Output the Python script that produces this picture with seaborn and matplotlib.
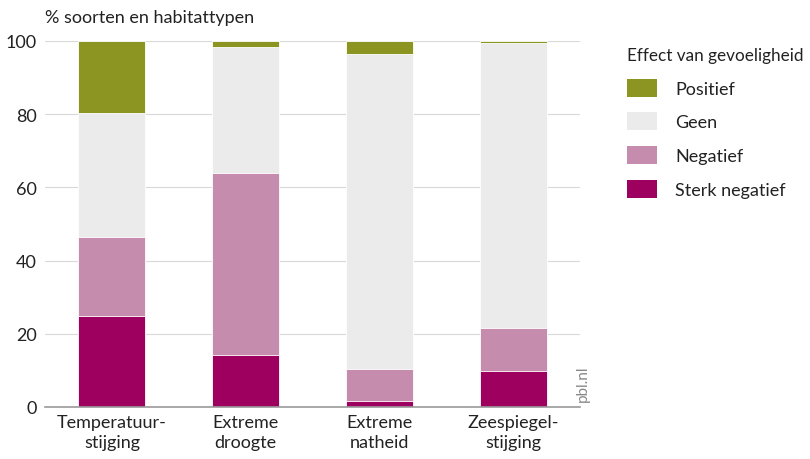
import matplotlib
matplotlib.use("Agg")
import matplotlib.pyplot as plt
import seaborn as sns
import pandas as pd
import numpy as np
from matplotlib.patches import Patch

categories = ["Temperatuur-\nstijging", "Extreme\ndroogte", "Extreme\nnatheid", "Zeespiegel-\nstijging"]
sterk_negatief = [25.0, 14.2, 1.6, 9.8]
negatief = [21.4, 49.7, 8.8, 11.8]
geen = [34.0, 34.4, 86.0, 77.9]
positief = [19.6, 1.7, 3.6, 0.5]

series_names = ["Sterk negatief", "Negatief", "Geen", "Positief"]
colors = {"Positief": "#8C9422", "Geen": "#EBEBEB", "Negatief": "#C68CAE", "Sterk negatief": "#9E005F"}

sns.set_theme(style="white")
plt.rcParams['font.family'] = ['Lato', 'DejaVu Sans']

df = pd.DataFrame({"cat": categories, "Sterk negatief": sterk_negatief,
                   "Negatief": negatief, "Geen": geen, "Positief": positief})
cum = df[series_names].cumsum(axis=1)

fig = plt.figure(figsize=(8.1, 4.6), dpi=100)
ax = fig.add_axes([45/810, 1-408/460, (580-45)/810, (408-42)/460])

for name in reversed(series_names):
    sns.barplot(x=df["cat"], y=cum[name], color=colors[name], ax=ax, width=0.5,
                edgecolor="white", linewidth=0.6, saturation=1, zorder=3)

ax.set_ylim(0, 100)
ax.set_xlim(-0.5, 3.5)
ax.set_yticks([0, 20, 40, 60, 80, 100])
ax.yaxis.grid(True, color="#D9D9D9", linewidth=0.8, zorder=0)
ax.set_axisbelow(True)
for s in ["top", "right", "left"]:
    ax.spines[s].set_visible(False)
ax.spines["bottom"].set_color("#9A9A9A")
ax.spines["bottom"].set_linewidth(1.2)
ax.spines["bottom"].set_zorder(5)
ax.set_xlabel("")
ax.set_ylabel("")
ax.tick_params(axis="y", length=0, labelsize=13, pad=6, colors="#222222")
ax.tick_params(axis="x", length=0, labelsize=13, pad=5, colors="#222222")
for lbl in ax.get_xticklabels():
    lbl.set_linespacing(1.35)

fig.text(45/810, 1-18/460, "% soorten en habitattypen", fontsize=13, color="#222222",
         ha="left", va="center")
fig.text(583/810, 1-384/460, "pbl.nl", fontsize=11, color="#888888", rotation=90,
         ha="center", va="center")

handles = [Patch(facecolor=colors[n], edgecolor="none") for n in ["Positief", "Geen", "Negatief", "Sterk negatief"]]
leg = fig.legend(handles, ["Positief", "Geen", "Negatief", "Sterk negatief"],
                 title="Effect van gevoeligheid", loc="upper left",
                 bbox_to_anchor=(611/810, 1-32/460), frameon=False, fontsize=13,
                 title_fontsize=12.3, handlelength=1.65, handleheight=1.15,
                 handletextpad=1.0, labelspacing=0.86, alignment="left")
for t in leg.get_texts():
    t.set_color("#222222")
leg.get_title().set_color("#222222")

fig.savefig("out.png", dpi=100)
